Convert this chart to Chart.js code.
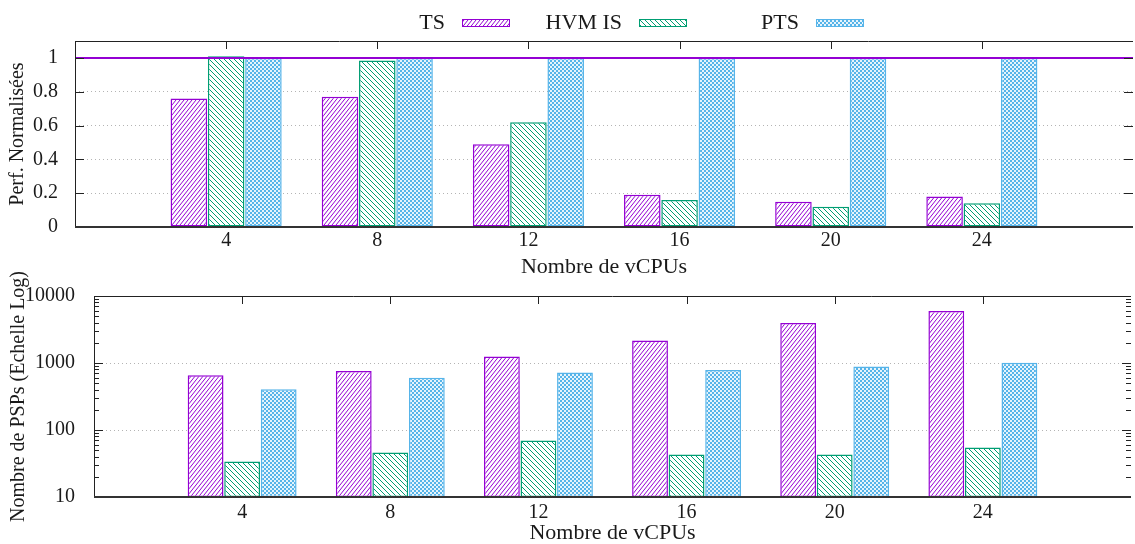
<!DOCTYPE html>
<html>
<head>
<meta charset="utf-8">
<script src="https://cdn.jsdelivr.net/npm/chart.js@4.4.0/dist/chart.umd.min.js"></script>
<style>
  body { margin: 0; background: #fff; }
  canvas { display: block; position: absolute; left: 0; }
  #perf { top: 0; }
  #psp { top: 250px; }
</style>
</head>
<body>
<canvas id="perf" width="1135" height="278"></canvas>
<canvas id="psp" width="1135" height="294"></canvas>
<script>
// Données
const vcpus = [4, 8, 12, 16, 20, 24];
const seriesNames = ['TS', 'HVM IS', 'PTS'];

const perfTS  = [0.76, 0.77, 0.49, 0.19, 0.15, 0.18];
const perfHVM = [1.01, 0.985, 0.62, 0.16, 0.12, 0.14];
const perfPTS = [1, 1, 1, 1, 1, 1];

const pspTS  = [655, 760, 1250, 2160, 3950, 5970];
const pspHVM = [34, 46, 70, 43, 43, 55];
const pspPTS = [405, 600, 720, 785, 885, 1010];

const perfTicks = [0, 0.2, 0.4, 0.6, 0.8, 1];
const pspTicks = [10, 100, 1000, 10000];
const refLine = 1;

// une case vide de chaque côté (0 et 28 sur l'axe de gnuplot)
const xLabels = ['', ...vcpus.map(String), ''];
const pad = arr => [null, ...arr, null];

const purple = '#9400D3';
const green = '#009E73';
const blue = '#56B4E9';
const textColor = '#1a1a1a';
const family = '"Liberation Serif", "Times New Roman", serif';

// Motifs de remplissage (hachures gnuplot)
function hatch(color, dir, w, h) {
  const c = document.createElement('canvas');
  c.width = w; c.height = h;
  const g = c.getContext('2d');
  g.fillStyle = '#fff';
  g.fillRect(0, 0, w, h);
  g.strokeStyle = color;
  g.lineWidth = 1;
  for (let k = -1; k <= 1; k++) {
    g.beginPath();
    if (dir === '/') { g.moveTo(k * w, h); g.lineTo(k * w + w, 0); }
    else { g.moveTo(k * w, 0); g.lineTo(k * w + w, h); }
    g.stroke();
  }
  return g.createPattern(c, 'repeat');
}

function checker(color) {
  const c = document.createElement('canvas');
  c.width = 4; c.height = 4;
  const g = c.getContext('2d');
  g.fillStyle = color;
  g.fillRect(0, 0, 4, 4);
  g.fillStyle = 'rgba(255,255,255,0.85)';
  g.fillRect(0, 0, 2, 2);
  g.fillRect(2, 2, 2, 2);
  return g.createPattern(c, 'repeat');
}

const fills = [hatch(purple, '/', 4, 5), hatch(green, '\\', 5, 5), checker(blue)];
const colors = [purple, green, blue];

// Cadre + petites graduations vers l'intérieur
const framePlugin = {
  id: 'frame',
  afterDraw(chart) {
    const { ctx, chartArea: a } = chart;
    const ys = chart.scales.y, xs = chart.scales.x;
    ctx.save();
    ctx.strokeStyle = '#222';
    ctx.lineWidth = 1;
    ctx.beginPath();
    ys.ticks.forEach(t => {
      const p = Math.round(ys.getPixelForValue(t.value)) + 0.5;
      ctx.moveTo(a.left, p); ctx.lineTo(a.left + 9, p);
      ctx.moveTo(a.right, p); ctx.lineTo(a.right - 9, p);
    });
    if (ys.type === 'logarithmic') {
      for (let d = ys.min; d < ys.max; d *= 10) {
        for (let m = 2; m < 10; m++) {
          const p = Math.round(ys.getPixelForValue(d * m)) + 0.5;
          ctx.moveTo(a.left, p); ctx.lineTo(a.left + 5, p);
          ctx.moveTo(a.right, p); ctx.lineTo(a.right - 5, p);
        }
      }
    }
    xs.ticks.forEach((t, i) => {
      if (!xLabels[i]) return;
      const p = Math.round(xs.getPixelForTick(i)) + 0.5;
      ctx.moveTo(p, a.top); ctx.lineTo(p, a.top + 8);
    });
    ctx.moveTo(a.left, Math.round(a.top) + 0.5);
    ctx.lineTo(a.right, Math.round(a.top) + 0.5);
    ctx.moveTo(Math.round(a.left) + 0.5, a.top);
    ctx.lineTo(Math.round(a.left) + 0.5, a.bottom);
    ctx.stroke();
    ctx.lineWidth = 2;
    ctx.strokeStyle = '#333';
    ctx.beginPath();
    ctx.moveTo(a.left, Math.round(a.bottom));
    ctx.lineTo(a.right, Math.round(a.bottom));
    ctx.stroke();
    ctx.restore();
  }
};

// Légende gnuplot : texte puis échantillon
const legendPlugin = {
  id: 'legendTop',
  afterDraw(chart) {
    const ctx = chart.ctx;
    ctx.save();
    ctx.font = '22px ' + family;
    ctx.textAlign = 'right';
    ctx.textBaseline = 'middle';
    chart.data.datasets.filter(d => d.type !== 'line').forEach((ds, i) => {
      const sx = 462 + i * 177;
      ctx.fillStyle = textColor;
      ctx.fillText(ds.label, sx - 17, 23);
      ctx.fillStyle = ds.backgroundColor;
      ctx.fillRect(sx, 19, 48, 8);
      ctx.strokeStyle = ds.borderColor;
      ctx.lineWidth = 1;
      ctx.strokeRect(sx + 0.5, 19.5, 47, 7);
    });
    ctx.restore();
  }
};

function makeChart(id, series, o) {
  const datasets = series.map((vals, i) => ({
    label: seriesNames[i],
    data: pad(vals),
    backgroundColor: fills[i],
    borderColor: colors[i],
    borderWidth: 1.5,
    borderSkipped: false,
    order: 1
  }));
  if (o.refLine) {
    datasets.push({
      type: 'line',
      label: '',
      data: xLabels.map(() => refLine),
      borderColor: purple,
      borderWidth: 2,
      pointRadius: 0,
      order: 0
    });
  }
  return new Chart(document.getElementById(id), {
    type: 'bar',
    data: { labels: xLabels, datasets: datasets },
    options: {
      responsive: false,
      animation: false,
      layout: { padding: { top: o.top, left: 0, right: 0, bottom: 0 } },
      plugins: { legend: { display: false }, tooltip: { enabled: false } },
      datasets: { bar: { categoryPercentage: 0.74, barPercentage: 0.98 } },
      scales: {
        x: {
          type: 'category',
          offset: false,
          grid: { display: false, drawTicks: false },
          border: { display: false },
          ticks: { autoSkip: false, maxRotation: 0, padding: o.xPad, color: textColor,
                   font: { family: family, size: 20 } },
          title: { display: true, text: 'Nombre de vCPUs', color: textColor, padding: 0,
                   font: { family: family, size: 22, lineHeight: 1 } },
          afterFit: s => { s.height = o.xHeight; }
        },
        y: {
          type: o.yType,
          min: o.min,
          max: o.max,
          grid: { color: '#b4b4b4', lineWidth: 1, drawTicks: false },
          border: { display: false, dash: [1, 3] },
          ticks: { padding: o.yPad, color: textColor, font: { family: family, size: 20 },
                   callback: v => String(v) },
          title: { display: true, text: o.yTitle, color: textColor, padding: { top: o.titlePad },
                   font: { family: family, size: 20, lineHeight: 1 } },
          afterBuildTicks: s => { s.ticks = o.ticks.map(v => ({ value: v })); },
          afterFit: s => { s.width = o.yWidth; s.paddingTop = 0; s.paddingBottom = 0; }
        }
      }
    },
    plugins: o.refLine ? [framePlugin, legendPlugin] : [framePlugin]
  });
}

makeChart('perf', [perfTS, perfHVM, perfPTS], {
  refLine: true, top: 41, xHeight: 51, xPad: 2, yWidth: 75, yPad: 17, titlePad: 8,
  yType: 'linear', min: 0, max: 1.1, ticks: perfTicks, yTitle: 'Perf. Normalisées'
});

makeChart('psp', [pspTS, pspHVM, pspPTS], {
  refLine: false, top: 46, xHeight: 47, xPad: 4, yWidth: 94, yPad: 19, titlePad: 9,
  yType: 'logarithmic', min: 10, max: 10000, ticks: pspTicks, yTitle: 'Nombre de PSPs (Echelle Log)'
});
</script>
</body>
</html>
